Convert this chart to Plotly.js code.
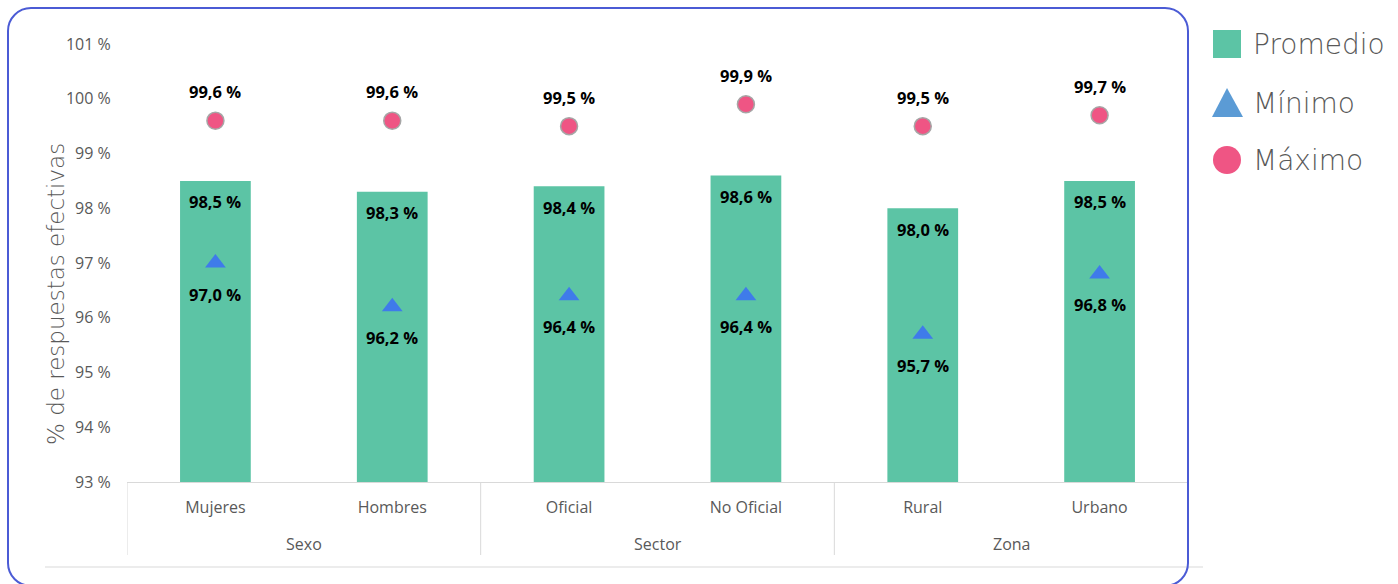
<!DOCTYPE html>
<html><head><meta charset="utf-8">
<script src="https://cdn.plot.ly/plotly-3.0.1.min.js"></script>
<style>
html,body{margin:0;padding:0;background:#fff;}
#chart{position:absolute;left:0;top:0;width:1398px;height:584px;}
#frame{position:absolute;left:7px;top:7px;width:1178px;height:576px;border:2px solid #4b5bd5;border-radius:24px;pointer-events:none;}
</style></head><body>
<div id="chart"></div><div id="frame"></div>
<script>
const groups = ["Sexo","Sexo","Sector","Sector","Zona","Zona"];
const categories = ["Mujeres","Hombres","Oficial","No Oficial","Rural","Urbano"];
const promedio = [98.5,98.3,98.4,98.6,98.0,98.5];
const minimo = [97.0,96.2,96.4,96.4,95.7,96.8];
const maximo = [99.6,99.6,99.5,99.9,99.5,99.7];
const yTicks = [93,94,95,96,97,98,99,100,101];
const seriesNames = ["Promedio","Mínimo","Máximo"];

const W=1398,H=584,L=127,R=1188,T=44,B=482;
const px=x=>(x-L)/(R-L), py=y=>(B-y)/(B-T);
const fmt=v=>v.toFixed(1).replace('.',',')+' %';
const lblFont={family:'"Open Sans", "Noto Sans", sans-serif',size:16.5,color:'#000',weight:700};
const gray='#595959';
const thinFont='"DejaVu Sans", Lato, sans-serif';

const traces=[
 {type:'bar',x:categories,y:promedio,name:seriesNames[0],marker:{color:'#5cc4a5'},width:0.4,hoverinfo:'skip'},
 {type:'scatter',mode:'markers',x:categories,y:minimo,name:seriesNames[1],marker:{symbol:'triangle-up',size:18,color:'#3f7bea'},hoverinfo:'skip'},
 {type:'scatter',mode:'markers',x:categories,y:maximo,name:seriesNames[2],marker:{symbol:'circle',size:17,color:'#ef5584',line:{color:'#a6a6a6',width:1.5}},hoverinfo:'skip'}
];

const ann=[];
categories.forEach((c,i)=>{
 ann.push({x:c,y:maximo[i],xref:'x',yref:'y',text:fmt(maximo[i]),showarrow:false,yshift:29,font:lblFont});
 ann.push({x:c,y:promedio[i],xref:'x',yref:'y',text:fmt(promedio[i]),showarrow:false,yshift:-21,font:lblFont});
 ann.push({x:c,y:minimo[i],xref:'x',yref:'y',text:fmt(minimo[i]),showarrow:false,yshift:-31,font:lblFont});
});
// group labels and dividers
const shapes=[];
let start=0;
for(let i=1;i<=groups.length;i++){
 if(i===groups.length||groups[i]!==groups[start]){
  ann.push({x:(start+i-1)/2,y:py(544),xref:'x',yref:'paper',yanchor:'middle',text:groups[start],showarrow:false,font:{size:16,color:gray}});
  shapes.push({type:'line',xref:'x',yref:'paper',x0:start-0.5,x1:start-0.5,y0:0,y1:py(555),line:{color:'#d9d9d9',width:1}});
  start=i;
 }
}
ann.push({x:px(41),y:py(294),xref:'paper',yref:'paper',text:'% de respuestas efectivas',textangle:-90,showarrow:false,font:{family:thinFont,size:23,color:gray,weight:200}});
const legY=[44,103,160];
seriesNames.forEach((n,i)=>{
 ann.push({x:px(1251),y:py(legY[i]),xref:'paper',yref:'paper',xanchor:'left',yanchor:'middle',text:n,showarrow:false,font:{family:thinFont,size:28,color:gray,weight:200}});
});

shapes.push(
 {type:'line',xref:'paper',yref:'paper',x0:px(45),x1:px(1203),y0:py(567),y1:py(567),line:{color:'#d9d9d9',width:1}},
 {type:'rect',xref:'paper',yref:'paper',x0:px(1213),x1:px(1241),y0:py(58),y1:py(30),fillcolor:'#5cc4a5',line:{width:0}},
 {type:'path',xref:'paper',yref:'paper',path:`M ${px(1227)} ${py(88)} L ${px(1243)} ${py(117)} L ${px(1212)} ${py(117)} Z`,fillcolor:'#5b9bd5',line:{width:0}},
 {type:'circle',xref:'paper',yref:'paper',x0:px(1213),x1:px(1241),y0:py(174),y1:py(146),fillcolor:'#ef5584',line:{width:0}}
);

const layout={
 width:W,height:H,margin:{l:L,r:W-R,t:T,b:H-B},
 paper_bgcolor:'rgba(0,0,0,0)',plot_bgcolor:'rgba(0,0,0,0)',
 showlegend:false,
 font:{family:'"Open Sans", "Noto Sans", sans-serif',color:gray},
 xaxis:{type:'category',showline:true,linecolor:'#d9d9d9',linewidth:1,showgrid:false,
   tickfont:{size:16,color:gray},ticks:'outside',ticklen:11,tickcolor:'rgba(0,0,0,0)',range:[-0.5,5.5]},
 yaxis:{range:[93,101],tickvals:yTicks,ticktext:yTicks.map(v=>v+' %'),showgrid:false,zeroline:false,showline:false,
   ticks:'outside',ticklen:12,tickcolor:'rgba(0,0,0,0)',tickfont:{size:16,color:gray}},
 annotations:ann,shapes:shapes
};
Plotly.newPlot('chart',traces,layout,{staticPlot:true});
</script></body></html>
